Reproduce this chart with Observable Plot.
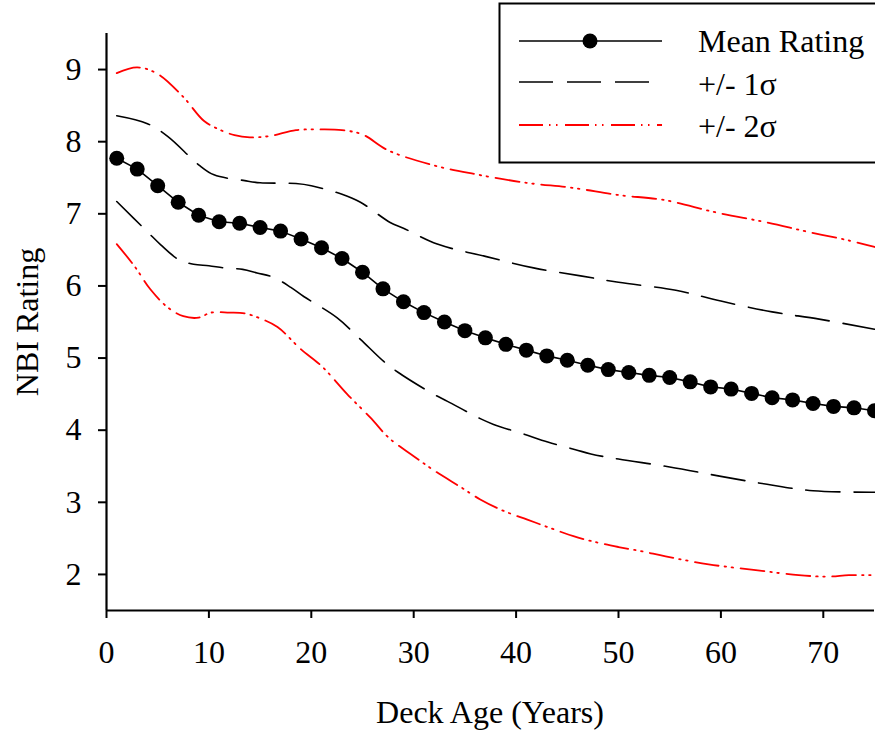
<!DOCTYPE html>
<html>
<head>
<meta charset="utf-8">
<script src="https://cdn.jsdelivr.net/npm/d3@7"></script>
<script src="https://cdn.jsdelivr.net/npm/@observablehq/plot@0.6"></script>
<style>
  html, body { margin: 0; padding: 0; background: white; overflow: hidden; }
</style>
</head>
<body>
<div id="chart"></div>
<script>
// ---- Data ----
const meanAges = [1,3,5,7,9,11,13,15,17,19,21,23,25,27,29,31,33,35,37,39,41,43,45,47,49,51,53,55,57,59,61,63,65,67,69,71,73,75];
const meanVals = [7.77,7.62,7.39,7.16,6.98,6.89,6.87,6.81,6.76,6.65,6.53,6.38,6.19,5.96,5.78,5.63,5.50,5.38,5.28,5.19,5.11,5.03,4.97,4.90,4.84,4.80,4.76,4.73,4.67,4.60,4.57,4.51,4.45,4.42,4.37,4.33,4.31,4.27];

const up1Ages = [1,4,6,9,10.5,13.5,15,18.5,20,23,24.8,27.7,29,32.3,37,41.7,46.3,50,55.6,60,65,69.6,75];
const up1Vals = [8.36,8.25,8.07,7.68,7.54,7.46,7.43,7.42,7.39,7.27,7.16,6.88,6.80,6.58,6.41,6.25,6.14,6.05,5.94,5.79,5.64,5.54,5.40];

const lo1Ages = [1,4,5.3,7,8.5,10,11.5,13.3,14.7,16.3,18,19.3,22.5,24.8,27.1,28.5,31.8,33.3,36.5,37.8,41.1,42.5,45.8,47.3,50,55,60,64.5,69,75];
const lo1Vals = [7.17,6.75,6.57,6.37,6.30,6.28,6.25,6.23,6.18,6.12,5.98,5.85,5.56,5.26,4.95,4.80,4.51,4.40,4.16,4.08,3.93,3.86,3.73,3.67,3.60,3.49,3.36,3.25,3.16,3.14];

const up2Ages = [1,3,5,7.5,9.5,11,12.5,14,16,18.5,21,23,25,27.5,32,36,41,45.5,50,54.5,59.5,64.5,68.5,72.5,75];
const up2Vals = [8.95,9.03,8.94,8.62,8.29,8.17,8.09,8.06,8.08,8.16,8.17,8.16,8.10,7.88,7.67,7.55,7.43,7.36,7.26,7.19,7.02,6.88,6.75,6.63,6.54];

const lo2Ages = [1,2.7,4.3,6,7.5,9,10.2,12,13.5,15,16.7,19,21,23.5,25.8,27.6,30,32,34.6,36.5,38.8,41.1,43.4,45.6,48,50,52.3,54.6,58.8,63.4,67.6,70.5,72.5,75];
const lo2Vals = [6.58,6.28,5.95,5.70,5.58,5.56,5.63,5.63,5.62,5.55,5.43,5.12,4.89,4.50,4.17,3.89,3.64,3.44,3.21,3.04,2.88,2.76,2.64,2.53,2.44,2.38,2.32,2.25,2.14,2.06,1.99,1.97,1.99,1.99];

const xTicks = [0,10,20,30,40,50,60,70];
const yTicks = [2,3,4,5,6,7,8,9];
const xLabel = "Deck Age (Years)";
const yLabel = "NBI Rating";
const legendLabels = ["Mean Rating", "+/- 1σ", "+/- 2σ"];

// ---- Build tables ----
const toRows = (ages, vals) => ages.map((a, i) => ({age: a, v: vals[i]}));
const mean = toRows(meanAges, meanVals);
const up1 = toRows(up1Ages, up1Vals);
const lo1 = toRows(lo1Ages, lo1Vals);
const up2 = toRows(up2Ages, up2Vals);
const lo2 = toRows(lo2Ages, lo2Vals);

const FONT = "'Liberation Serif', 'Times New Roman', 'DejaVu Serif', serif";
const dash1 = "34,14";
const dash2 = "24,6,1.5,5.5,1.5,7.5";
const RED = "#ff0000";

const sigmaLine = (data, stroke, dash, sw) => Plot.line(data, {
  x: "age", y: "v", stroke, strokeWidth: sw, strokeDasharray: dash, curve: "catmull-rom"
});

const chart = Plot.plot({
  width: 875,
  height: 734,
  marginLeft: 106,
  marginRight: 1,
  marginTop: 33,
  marginBottom: 124,
  x: {domain: [0, 75]},
  y: {domain: [1.5, 9.5]},
  style: {fontFamily: FONT, fontSize: "32px", color: "black", background: "white"},
  marks: [
    Plot.axisX({ticks: xTicks, tickSize: 8, tickPadding: 22, label: null, strokeWidth: 2}),
    Plot.axisY({ticks: yTicks, tickSize: 8, tickPadding: 17, label: null, strokeWidth: 2}),
    sigmaLine(up2, RED, dash2, 1.8),
    sigmaLine(lo2, RED, dash2, 1.8),
    sigmaLine(up1, "black", dash1, 1.6),
    sigmaLine(lo1, "black", dash1, 1.6),
    Plot.line(mean, {x: "age", y: "v", stroke: "black", strokeWidth: 1.6}),
    Plot.dot(mean, {x: "age", y: "v", r: 7.5, fill: "black", stroke: "none"}),
    Plot.ruleX([0], {stroke: "black", strokeWidth: 2.2}),
    Plot.ruleY([1.5], {stroke: "black", strokeWidth: 2.2})
  ]
});

document.getElementById("chart").appendChild(chart);

// ---- Axis titles and legend (decoration) ----
const svg = d3.select(chart);
svg.append("text")
  .attr("x", 490).attr("y", 723)
  .attr("text-anchor", "middle")
  .style("font-family", FONT).style("font-size", "32px").attr("fill", "black")
  .text(xLabel);
svg.append("text")
  .attr("transform", "translate(38,322) rotate(-90)")
  .attr("text-anchor", "middle")
  .style("font-family", FONT).style("font-size", "32px").attr("fill", "black")
  .text(yLabel);

const lg = svg.append("g").attr("text-anchor", "start");
lg.append("rect")
  .attr("x", 499.5).attr("y", 3.5).attr("width", 390).attr("height", 159)
  .attr("fill", "white").attr("stroke", "black").attr("stroke-width", 2);
lg.append("line").attr("x1", 519).attr("x2", 662).attr("y1", 41).attr("y2", 41)
  .attr("stroke", "black").attr("stroke-width", 1.6);
lg.append("circle").attr("cx", 590).attr("cy", 41).attr("r", 7.5).attr("fill", "black");
lg.append("line").attr("x1", 519).attr("x2", 662).attr("y1", 82).attr("y2", 82)
  .attr("stroke", "black").attr("stroke-width", 1.6).attr("stroke-dasharray", dash1);
lg.append("line").attr("x1", 519).attr("x2", 662).attr("y1", 125).attr("y2", 125)
  .attr("stroke", RED).attr("stroke-width", 1.8).attr("stroke-dasharray", dash2);
const baselines = [52, 95, 137];
legendLabels.forEach((t, i) => {
  lg.append("text").attr("x", 698).attr("y", baselines[i])
    .attr("text-anchor", "start")
    .style("font-family", FONT).style("font-size", "32px").attr("fill", "black")
    .text(t);
});
</script>
</body>
</html>
